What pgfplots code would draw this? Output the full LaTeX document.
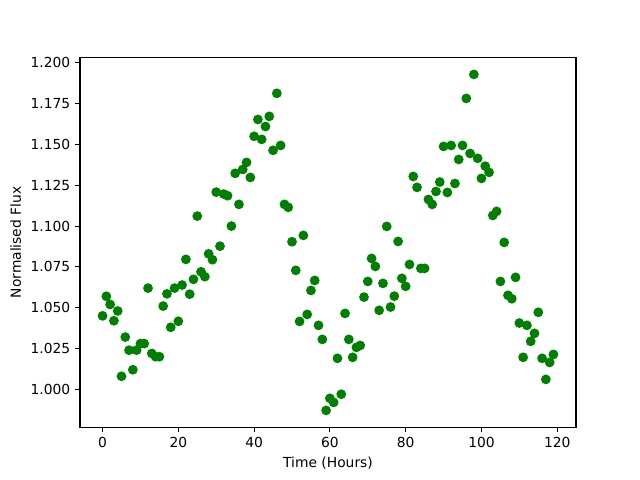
\documentclass[border=0pt]{standalone}
\usepackage{fontspec}
\setmainfont{DejaVu Sans}
\usepackage{pgfplots}
\pgfplotsset{compat=1.18}
\definecolor{mplgreen}{RGB}{0,128,0}
\begin{document}
\fontsize{10}{12}\selectfont
\begin{tikzpicture}
\useasboundingbox (0,0) rectangle (6.4in,4.8in);
\begin{axis}[
  at={(0.8in,0.528in)}, anchor=south west,
  scale only axis, width=4.96in, height=3.696in,
  xmin=-5.95, xmax=124.95, ymin=0.97681, ymax=1.2032,
  xtick={0,20,...,120},
  ytick={1.000,1.025,1.050,1.075,1.100,1.125,1.150,1.175,1.200},
  yticklabel style={/pgf/number format/fixed,/pgf/number format/fixed zerofill,/pgf/number format/precision=3},
  /pgf/number format/assume math mode=true,
  tick align=outside, tick pos=left,
  major tick length=3.5pt,
  every tick/.style={black, line width=0.8pt},
  axis line style={line width=0.8pt},
  tick label style={font=\fontsize{10}{12}\selectfont},
  xlabel={Time (Hours)}, ylabel={Normalised Flux},
  label style={font=\fontsize{10}{12}\selectfont},
]
\addplot[only marks, mark=*, mark size=3pt, mplgreen, mark options={draw=mplgreen, fill=mplgreen, line width=1pt}] table {
x y
0 1.045
1 1.057
2 1.052
3 1.042
4 1.048
5 1.008
6 1.032
7 1.024
8 1.012
9 1.024
10 1.028
11 1.028
12 1.062
13 1.022
14 1.020
15 1.020
16 1.051
17 1.0585
18 1.038
19 1.062
20 1.0417
21 1.0639
22 1.0796
23 1.0583
24 1.0674
25 1.1061
26 1.072
27 1.069
28 1.083
29 1.0794
30 1.1208
31 1.0877
32 1.1196
33 1.1186
34 1.100
35 1.1323
36 1.1133
37 1.1347
38 1.139
39 1.1298
40 1.155
41 1.1653
42 1.1531
43 1.161
44 1.1672
45 1.1464
46 1.1813
47 1.1494
48 1.1133
49 1.1115
50 1.0904
51 1.0729
52 1.0416
53 1.0943
54 1.0459
55 1.0606
56 1.0667
57 1.0392
58 1.0306
59 0.9871
60 0.9945
61 0.992
62 1.019
63 0.997
64 1.0465
65 1.0306
66 1.0196
67 1.0257
68 1.0269
69 1.0565
70 1.0661
71 1.0802
72 1.0753
73 1.0484
74 1.0649
75 1.0998
76 1.0504
77 1.0571
78 1.0906
79 1.068
80 1.0631
81 1.0765
82 1.1304
83 1.1237
84 1.0741
85 1.0741
86 1.1163
87 1.1133
88 1.1212
89 1.127
90 1.1488
91 1.1206
92 1.1494
93 1.1261
94 1.1408
95 1.1494
96 1.1782
97 1.1445
98 1.1929
99 1.1415
100 1.1292
101 1.1367
102 1.1329
103 1.1065
104 1.109
105 1.0661
106 1.090
107 1.0576
108 1.0555
109 1.0686
110 1.0406
111 1.0196
112 1.0392
113 1.0294
114 1.0343
115 1.0472
116 1.019
117 1.0061
118 1.0165
119 1.0214
};
\end{axis}
\end{tikzpicture}
\end{document}
